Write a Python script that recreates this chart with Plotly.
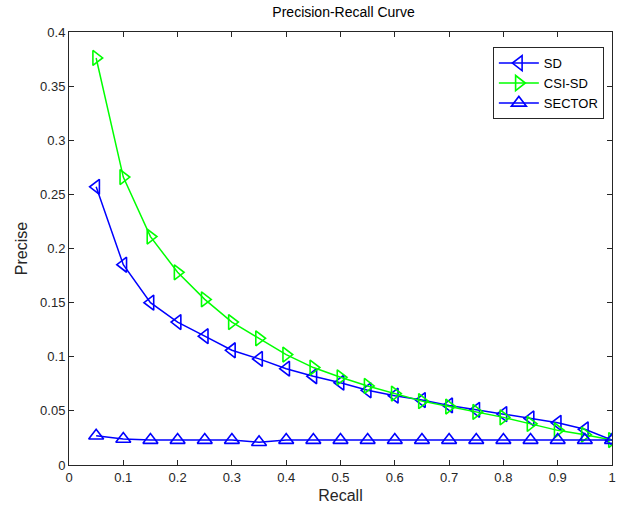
import plotly.graph_objects as go

recall = [0.05, 0.1, 0.15, 0.2, 0.25, 0.3, 0.35, 0.4, 0.45, 0.5,
          0.55, 0.6, 0.65, 0.7, 0.75, 0.8, 0.85, 0.9, 0.95, 1.0]

sd = [0.257, 0.185, 0.150, 0.132, 0.119, 0.106, 0.098, 0.089, 0.082, 0.076,
      0.069, 0.064, 0.060, 0.055, 0.051, 0.047, 0.043, 0.039, 0.033, 0.023]

csi_sd = [0.376, 0.266, 0.211, 0.178, 0.153, 0.132, 0.117, 0.102, 0.090, 0.081,
          0.073, 0.066, 0.059, 0.054, 0.049, 0.044, 0.038, 0.032, 0.028, 0.023]

sector = [0.027, 0.024, 0.023, 0.023, 0.023, 0.023, 0.021, 0.023, 0.023, 0.023,
          0.023, 0.023, 0.023, 0.023, 0.023, 0.023, 0.023, 0.023, 0.023, 0.023]

fig = go.Figure()
fig.add_trace(go.Scatter(x=recall, y=sd, name="SD", mode="lines+markers",
                         line=dict(color="#0000ff", width=1.5),
                         marker=dict(symbol="triangle-left-open", size=13,
                                     line=dict(width=1.6, color="#0000ff"))))
fig.add_trace(go.Scatter(x=recall, y=csi_sd, name="CSI-SD", mode="lines+markers",
                         line=dict(color="#00ff00", width=1.5),
                         marker=dict(symbol="triangle-right-open", size=13,
                                     line=dict(width=1.6, color="#00ff00"))))
fig.add_trace(go.Scatter(x=recall, y=sector, name="SECTOR", mode="lines+markers",
                         line=dict(color="#0000ff", width=1.5),
                         marker=dict(symbol="triangle-up-open", size=13,
                                     line=dict(width=1.6, color="#0000ff"))))

axis_style = dict(showgrid=False, zeroline=False, showline=True, mirror="ticks",
                  linecolor="#262626", linewidth=1, ticks="inside", ticklen=5,
                  tickcolor="#262626", tickfont=dict(size=13, color="#262626"),
                  ticklabeloverflow="allow")

fig.update_layout(
    width=619, height=519,
    paper_bgcolor="white", plot_bgcolor="white",
    font=dict(family="Liberation Sans, Arial, sans-serif", color="#262626"),
    margin=dict(l=69, r=3, t=32, b=54),
    title=dict(text="Precision-Recall Curve", x=0.555, xanchor="center",
               y=0.977, yanchor="middle", font=dict(size=14, color="#000000")),
    xaxis=dict(range=[0, 1], dtick=0.1, tickformat="~g",
               title=dict(text="Recall", font=dict(size=16), standoff=6), **axis_style),
    yaxis=dict(range=[0, 0.4], dtick=0.05, tickformat="~g",
               title=dict(text="Precise", font=dict(size=16), standoff=8), **axis_style),
    legend=dict(x=0.985, y=0.965, xanchor="right", yanchor="top",
                bordercolor="#262626", borderwidth=1, bgcolor="white",
                font=dict(size=13, color="#000000"), tracegroupgap=0,
                itemwidth=40),
    showlegend=True,
)

fig.write_html("out.html", config={"displayModeBar": False},
               post_script="document.body.style.margin='0';")
